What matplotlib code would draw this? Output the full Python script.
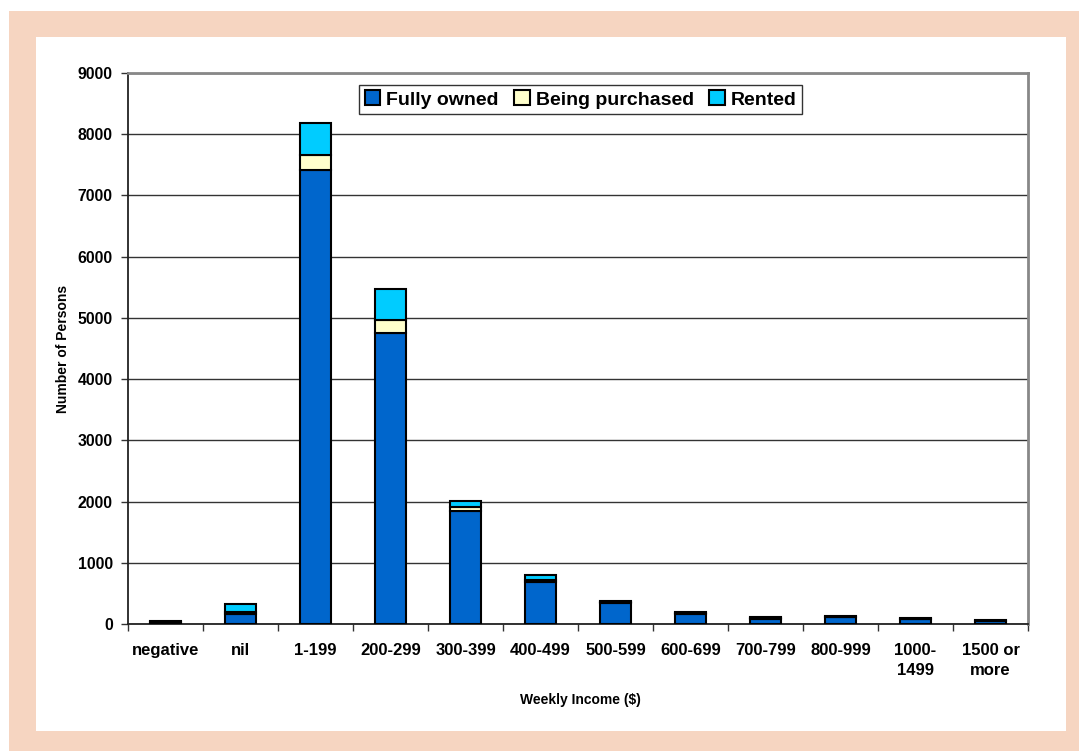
import matplotlib
matplotlib.use("Agg")
import matplotlib.pyplot as plt
from matplotlib.patches import Rectangle
import numpy as np

categories = ["negative", "nil", "1-199", "200-299", "300-399", "400-499",
              "500-599", "600-699", "700-799", "800-999", "1000-\n1499", "1500 or\nmore"]
fully_owned = [25, 170, 7410, 4760, 1850, 680, 340, 160, 85, 110, 75, 45]
being_purchased = [5, 20, 250, 200, 60, 40, 20, 15, 10, 10, 10, 10]
rented = [15, 140, 530, 520, 100, 80, 20, 25, 15, 15, 15, 15]
series_names = ["Fully owned", "Being purchased", "Rented"]
yticks = list(range(0, 9001, 1000))

plt.rcParams['font.family'] = ['Liberation Sans', 'DejaVu Sans']
plt.rcParams['font.weight'] = 'bold'

W, H = 1079, 751
fig = plt.figure(figsize=(W / 100, H / 100), dpi=100, facecolor="white")
fig.patches.append(Rectangle((9 / W, 0), 1 - 9 / W, 1 - 11 / H, transform=fig.transFigure,
                             facecolor="#F6D5C1", edgecolor="none", zorder=-10))
fig.patches.append(Rectangle((36 / W, 1 - 731 / H), (1066 - 36) / W, (731 - 37) / H,
                             transform=fig.transFigure, facecolor="white", edgecolor="none", zorder=-9))

ax = fig.add_axes([128 / W, 1 - 624 / H, 900 / W, 551 / H])
ax.set_zorder(1)
ax.set_facecolor("none")

x = np.arange(len(categories))
fo = np.array(fully_owned)
bp = np.array(being_purchased)
rt = np.array(rented)
bw = 0.41
kw = dict(width=bw, edgecolor="black", linewidth=1.5, zorder=3)
ax.bar(x, fo, color="#0066CC", label=series_names[0], **kw)
ax.bar(x, bp, bottom=fo, color="#FFFFCC", label=series_names[1], **kw)
ax.bar(x, rt, bottom=fo + bp, color="#00CCFF", label=series_names[2], **kw)

ax.set_xlim(-0.5, len(categories) - 0.5)
ax.set_ylim(0, 9000)
ax.set_yticks(yticks)
ax.set_yticklabels([str(v) for v in yticks], fontsize=11.3, fontweight="bold")
ax.yaxis.grid(True, color="#333333", linewidth=1.0, zorder=1)
ax.set_axisbelow(True)

ax.set_xticks(np.arange(len(categories) + 1) - 0.5)
ax.set_xticklabels([])
ax.set_xticks(x, minor=True)
ax.set_xticklabels(categories, minor=True, fontsize=12, fontweight="bold", linespacing=1.4)
ax.tick_params(axis="x", which="minor", length=0, pad=14)
ax.tick_params(axis="x", which="major", length=5, width=1, direction="out", color="#333333")
ax.tick_params(axis="y", length=5, width=1, direction="out", color="#333333", pad=6)

for s in ["left", "bottom"]:
    ax.spines[s].set_color("#222222")
    ax.spines[s].set_linewidth(1.3)
for s in ["top", "right"]:
    ax.spines[s].set_color("#888888")
    ax.spines[s].set_linewidth(2)

ax.set_ylabel("Number of Persons", fontsize=10, fontweight="bold")
ax.yaxis.set_label_coords(-0.064, 0.5)
ax.set_xlabel("Weekly Income ($)", fontsize=10, fontweight="bold")
ax.xaxis.set_label_coords(0.503, -0.125)

leg = ax.legend(loc="center", bbox_to_anchor=(0.503, 0.952), ncol=3, frameon=True, fancybox=False,
                prop={"size": 14, "weight": "bold"}, handlelength=0.8, handleheight=0.8,
                handletextpad=0.3, columnspacing=0.8, borderpad=0.3, borderaxespad=0)
leg.get_frame().set_edgecolor("black")
leg.get_frame().set_linewidth(1.0)
leg.set_zorder(5)

fig.savefig("out.png", dpi=100, facecolor="white")
